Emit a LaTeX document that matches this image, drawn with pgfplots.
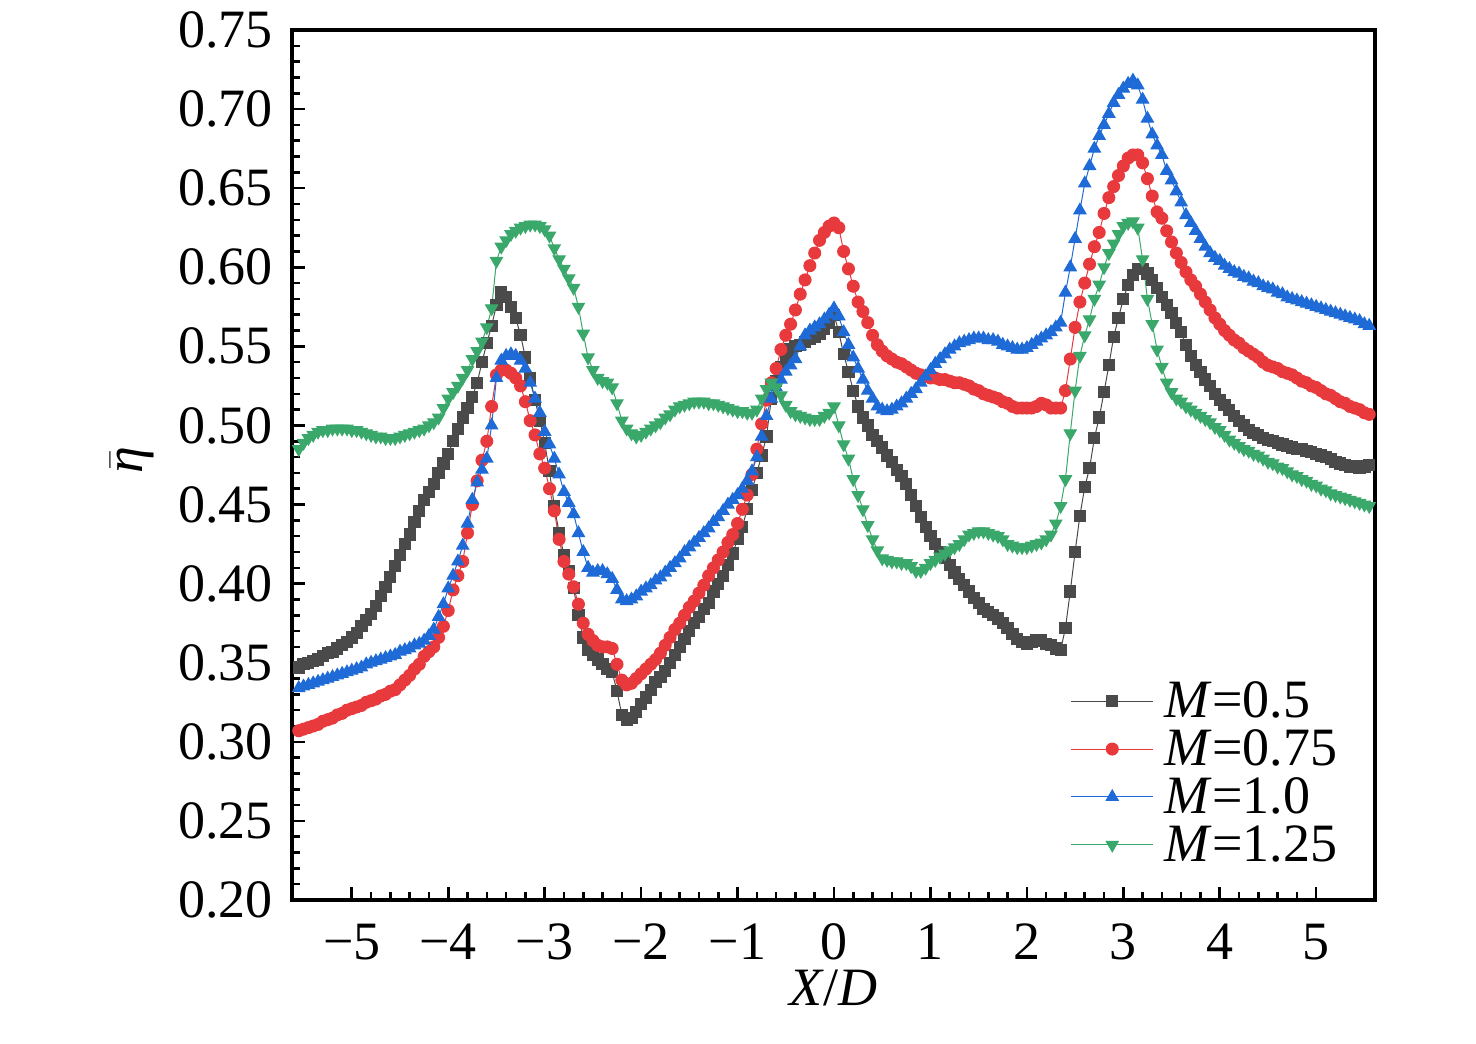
\documentclass[border=0pt]{standalone}
\usepackage{fontspec}
\setmainfont{Liberation Serif}
\usepackage{pgfplots}
\usepackage{pgfplotstable}
\pgfplotsset{compat=1.18}
\definecolor{cBlack}{HTML}{4A4A4A}
\definecolor{cRed}{HTML}{E8393D}
\definecolor{cBlue}{HTML}{1E6AD6}
\definecolor{cGreen}{HTML}{3AA86B}
\newcommand{\fs}{\fontsize{27}{32}\selectfont}
\pgfplotstableread{
x b r u g
-5.55 0.347 0.307 0.334 0.485
-5.50 0.349 0.308 0.335 0.489
-5.45 0.350 0.309 0.336 0.492
-5.40 0.351 0.310 0.337 0.494
-5.35 0.352 0.311 0.338 0.496
-5.30 0.354 0.313 0.339 0.497
-5.25 0.356 0.314 0.340 0.497
-5.20 0.357 0.315 0.341 0.498
-5.15 0.359 0.317 0.342 0.498
-5.10 0.361 0.318 0.343 0.498
-5.05 0.363 0.320 0.344 0.498
-5.00 0.366 0.321 0.345 0.497
-4.95 0.369 0.322 0.346 0.497
-4.90 0.373 0.323 0.347 0.496
-4.85 0.377 0.325 0.349 0.495
-4.80 0.381 0.326 0.350 0.494
-4.75 0.386 0.327 0.351 0.493
-4.70 0.392 0.329 0.352 0.493
-4.65 0.398 0.330 0.353 0.492
-4.60 0.404 0.332 0.354 0.492
-4.55 0.411 0.333 0.355 0.492
-4.50 0.418 0.336 0.357 0.493
-4.45 0.425 0.339 0.358 0.494
-4.40 0.431 0.342 0.359 0.495
-4.35 0.439 0.346 0.361 0.496
-4.30 0.446 0.349 0.362 0.497
-4.25 0.453 0.354 0.364 0.498
-4.20 0.458 0.357 0.367 0.500
-4.15 0.463 0.360 0.371 0.502
-4.10 0.470 0.366 0.379 0.505
-4.05 0.476 0.373 0.387 0.511
-4.00 0.482 0.383 0.397 0.517
-3.95 0.490 0.396 0.405 0.521
-3.90 0.498 0.405 0.414 0.525
-3.85 0.505 0.414 0.424 0.530
-3.80 0.511 0.432 0.438 0.535
-3.75 0.518 0.450 0.453 0.542
-3.70 0.527 0.465 0.464 0.547
-3.65 0.540 0.478 0.472 0.553
-3.60 0.552 0.490 0.479 0.562
-3.55 0.563 0.512 0.500 0.574
-3.50 0.576 0.532 0.530 0.604
-3.45 0.584 0.535 0.541 0.613
-3.40 0.581 0.535 0.544 0.617
-3.35 0.575 0.533 0.545 0.621
-3.30 0.568 0.530 0.544 0.623
-3.25 0.557 0.525 0.541 0.625
-3.20 0.543 0.515 0.536 0.626
-3.15 0.530 0.503 0.527 0.627
-3.10 0.516 0.494 0.517 0.627
-3.05 0.503 0.482 0.508 0.626
-3.00 0.489 0.473 0.496 0.624
-2.95 0.471 0.460 0.488 0.620
-2.90 0.449 0.446 0.479 0.612
-2.85 0.432 0.428 0.469 0.605
-2.80 0.418 0.414 0.458 0.599
-2.75 0.408 0.406 0.451 0.593
-2.70 0.397 0.398 0.444 0.587
-2.65 0.380 0.387 0.432 0.575
-2.60 0.366 0.375 0.420 0.558
-2.55 0.358 0.368 0.410 0.543
-2.50 0.355 0.364 0.407 0.535
-2.45 0.352 0.361 0.408 0.530
-2.40 0.349 0.360 0.408 0.528
-2.35 0.346 0.360 0.406 0.527
-2.30 0.344 0.359 0.403 0.524
-2.25 0.332 0.349 0.396 0.514
-2.20 0.317 0.339 0.390 0.503
-2.15 0.314 0.336 0.389 0.498
-2.10 0.315 0.337 0.390 0.495
-2.05 0.319 0.340 0.392 0.493
-2.00 0.324 0.343 0.395 0.494
-1.95 0.328 0.346 0.397 0.496
-1.90 0.333 0.349 0.399 0.498
-1.85 0.338 0.352 0.402 0.500
-1.80 0.341 0.356 0.404 0.502
-1.75 0.345 0.361 0.407 0.505
-1.70 0.350 0.366 0.410 0.507
-1.65 0.355 0.371 0.413 0.510
-1.60 0.360 0.375 0.416 0.512
-1.55 0.365 0.380 0.420 0.513
-1.50 0.370 0.385 0.423 0.514
-1.45 0.375 0.389 0.426 0.515
-1.40 0.379 0.394 0.429 0.515
-1.35 0.384 0.399 0.432 0.515
-1.30 0.388 0.405 0.435 0.514
-1.25 0.395 0.410 0.439 0.514
-1.20 0.400 0.415 0.442 0.513
-1.15 0.405 0.420 0.446 0.512
-1.10 0.412 0.426 0.450 0.511
-1.05 0.419 0.431 0.453 0.510
-1.00 0.428 0.438 0.456 0.509
-0.95 0.436 0.447 0.460 0.509
-0.90 0.447 0.456 0.465 0.508
-0.85 0.459 0.469 0.471 0.508
-0.80 0.470 0.485 0.480 0.510
-0.75 0.481 0.501 0.493 0.517
-0.70 0.493 0.516 0.506 0.523
-0.65 0.517 0.527 0.517 0.527
-0.60 0.528 0.536 0.524 0.524
-0.55 0.537 0.548 0.529 0.519
-0.50 0.543 0.557 0.534 0.513
-0.45 0.548 0.564 0.538 0.509
-0.40 0.550 0.573 0.542 0.507
-0.35 0.551 0.583 0.550 0.506
-0.30 0.553 0.592 0.557 0.505
-0.25 0.555 0.601 0.560 0.504
-0.20 0.556 0.609 0.562 0.504
-0.15 0.558 0.617 0.564 0.504
-0.10 0.561 0.622 0.567 0.506
-0.05 0.565 0.626 0.570 0.508
0.00 0.570 0.628 0.574 0.512
0.05 0.559 0.625 0.569 0.500
0.10 0.545 0.610 0.559 0.488
0.15 0.534 0.599 0.551 0.479
0.20 0.522 0.588 0.543 0.466
0.25 0.512 0.578 0.536 0.456
0.30 0.505 0.572 0.529 0.447
0.35 0.500 0.565 0.522 0.437
0.40 0.494 0.557 0.517 0.428
0.45 0.490 0.551 0.512 0.421
0.50 0.486 0.547 0.510 0.416
0.55 0.481 0.544 0.509 0.415
0.60 0.477 0.542 0.510 0.414
0.65 0.472 0.540 0.512 0.414
0.70 0.468 0.539 0.514 0.413
0.75 0.463 0.537 0.517 0.413
0.80 0.456 0.535 0.520 0.411
0.85 0.449 0.533 0.523 0.408
0.90 0.442 0.532 0.527 0.408
0.95 0.436 0.531 0.531 0.410
1.00 0.430 0.530 0.535 0.413
1.05 0.425 0.530 0.539 0.415
1.10 0.420 0.529 0.542 0.417
1.15 0.416 0.529 0.545 0.419
1.20 0.412 0.528 0.548 0.421
1.25 0.407 0.527 0.550 0.423
1.30 0.403 0.527 0.552 0.425
1.35 0.399 0.526 0.553 0.428
1.40 0.395 0.525 0.554 0.431
1.45 0.391 0.523 0.555 0.432
1.50 0.388 0.522 0.555 0.433
1.55 0.384 0.520 0.555 0.433
1.60 0.382 0.519 0.554 0.432
1.65 0.380 0.518 0.554 0.431
1.70 0.378 0.517 0.553 0.430
1.75 0.375 0.515 0.551 0.428
1.80 0.372 0.514 0.550 0.425
1.85 0.368 0.512 0.549 0.424
1.90 0.365 0.511 0.548 0.423
1.95 0.363 0.511 0.548 0.423
2.00 0.362 0.511 0.549 0.423
2.05 0.363 0.511 0.551 0.424
2.10 0.364 0.512 0.553 0.425
2.15 0.364 0.514 0.555 0.426
2.20 0.362 0.513 0.557 0.428
2.25 0.361 0.511 0.559 0.431
2.30 0.359 0.511 0.562 0.438
2.35 0.358 0.511 0.565 0.449
2.40 0.372 0.522 0.584 0.466
2.45 0.395 0.542 0.600 0.495
2.50 0.420 0.562 0.618 0.522
2.55 0.443 0.578 0.636 0.544
2.60 0.461 0.590 0.653 0.557
2.65 0.473 0.602 0.664 0.567
2.70 0.492 0.613 0.675 0.580
2.75 0.505 0.622 0.683 0.589
2.80 0.521 0.634 0.690 0.600
2.85 0.538 0.644 0.697 0.609
2.90 0.556 0.651 0.704 0.615
2.95 0.568 0.658 0.709 0.621
3.00 0.580 0.664 0.713 0.626
3.05 0.589 0.669 0.716 0.628
3.10 0.595 0.671 0.718 0.629
3.15 0.599 0.671 0.715 0.625
3.20 0.599 0.666 0.706 0.605
3.25 0.596 0.656 0.694 0.580
3.30 0.592 0.645 0.684 0.564
3.35 0.587 0.635 0.677 0.548
3.40 0.581 0.631 0.671 0.537
3.45 0.576 0.623 0.661 0.527
3.50 0.571 0.616 0.655 0.521
3.55 0.565 0.609 0.648 0.517
3.60 0.559 0.603 0.641 0.515
3.65 0.551 0.597 0.633 0.512
3.70 0.544 0.592 0.628 0.510
3.75 0.538 0.588 0.623 0.508
3.80 0.534 0.583 0.618 0.506
3.85 0.529 0.578 0.613 0.504
3.90 0.525 0.573 0.609 0.502
3.95 0.520 0.568 0.606 0.499
4.00 0.516 0.564 0.604 0.497
4.05 0.513 0.560 0.601 0.494
4.10 0.510 0.557 0.599 0.491
4.15 0.506 0.554 0.597 0.489
4.20 0.503 0.552 0.596 0.487
4.25 0.500 0.549 0.594 0.485
4.30 0.497 0.547 0.593 0.484
4.35 0.495 0.545 0.591 0.482
4.40 0.494 0.543 0.590 0.481
4.45 0.492 0.540 0.588 0.479
4.50 0.491 0.538 0.587 0.477
4.55 0.490 0.537 0.586 0.476
4.60 0.489 0.536 0.584 0.474
4.65 0.488 0.534 0.583 0.473
4.70 0.487 0.533 0.581 0.471
4.75 0.486 0.532 0.580 0.469
4.80 0.485 0.530 0.579 0.468
4.85 0.485 0.528 0.578 0.466
4.90 0.484 0.527 0.577 0.465
4.95 0.483 0.525 0.576 0.463
5.00 0.482 0.524 0.575 0.462
5.05 0.481 0.522 0.574 0.460
5.10 0.480 0.520 0.573 0.459
5.15 0.479 0.519 0.572 0.457
5.20 0.477 0.517 0.571 0.456
5.25 0.476 0.515 0.570 0.455
5.30 0.475 0.514 0.569 0.454
5.35 0.474 0.512 0.568 0.453
5.40 0.474 0.511 0.567 0.452
5.45 0.473 0.510 0.566 0.451
5.50 0.474 0.508 0.564 0.450
5.55 0.475 0.507 0.563 0.449
}\data
\begin{document}
\begin{tikzpicture}
\path[use as bounding box] (-146pt,-71.5pt) rectangle (592pt,450pt);
\begin{axis}[
  at={(0,0)}, anchor=south west,
  scale only axis, width=541.5pt, height=435pt,
  xmin=-5.62, xmax=5.61, ymin=0.2, ymax=0.75,
  xtick={-5,-4,-3,-2,-1,0,1,2,3,4,5},
  xticklabels={−5,−4,−3,−2,−1,0,1,2,3,4,5},
  ytick={0.20,0.25,0.30,0.35,0.40,0.45,0.50,0.55,0.60,0.65,0.70,0.75},
  yticklabels={0.20,0.25,0.30,0.35,0.40,0.45,0.50,0.55,0.60,0.65,0.70,0.75},
  minor x tick num=4, minor y tick num=4,
  xtick pos=bottom, ytick pos=left, tick align=inside,
  major tick length=6.7pt, minor tick length=4pt,
  tick style={line width=1.3pt, black},
  axis line style={line width=1.7pt},
  tick label style={font=\fs},
  xticklabel style={yshift=-8.5pt},
  yticklabel style={xshift=-6pt},
  xlabel={\textit{X}/\textit{D}},
  ylabel={$\bar{\mbox{\itshape η}}$},
  label style={font=\fs},
  xlabel style={at={(axis description cs:0.5,0)}, anchor=center, yshift=-44pt},
  ylabel style={at={(axis description cs:0,0.506)}, anchor=center, yshift=80pt},
  legend cell align=left,
  legend style={draw=none, fill=none, font=\fs, at={(rel axis cs:0.7187,0.2514)}, anchor=north west, inner sep=0pt, row sep=4.5pt, nodes={inner sep=0pt}, /tikz/every odd column/.append style={column sep=5.5pt}},
  legend image code/.code={\draw[mark repeat=2,mark phase=2] plot coordinates {(0pt,0pt) (20.5pt,0pt) (41pt,0pt)};},
]
\addplot[color=cBlack, line width=0.5pt, mark=square*, mark size=2.8pt, mark options={solid}] table[x=x,y=b]{\data};
\addlegendentry{\textit{M}=0.5}
\addplot[color=cRed, line width=0.5pt, mark=*, mark size=3pt, mark options={solid}] table[x=x,y=r]{\data};
\addlegendentry{\textit{M}=0.75}
\addplot[color=cBlue, line width=0.5pt, mark=triangle*, mark size=3.5pt, mark options={solid}] table[x=x,y=u]{\data};
\addlegendentry{\textit{M}=1.0}
\addplot[color=cGreen, line width=0.5pt, mark=triangle*, mark size=3.5pt, mark options={solid, rotate=180}] table[x=x,y=g]{\data};
\addlegendentry{\textit{M}=1.25}
\end{axis}
\end{tikzpicture}
\end{document}
